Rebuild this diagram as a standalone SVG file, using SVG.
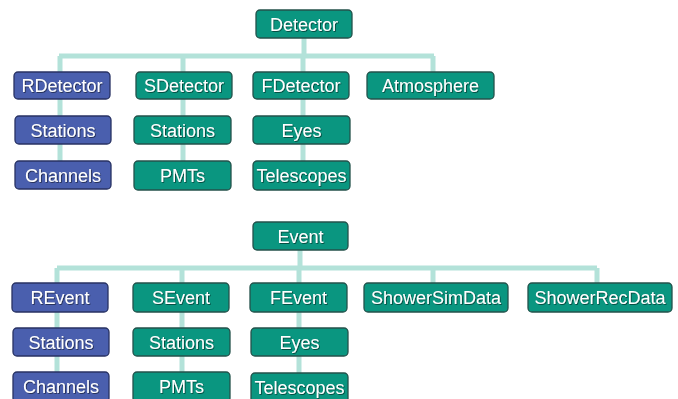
<svg xmlns="http://www.w3.org/2000/svg" width="678" height="399" viewBox="0 0 678 399">
<defs>
<filter id="ts" x="-10%" y="-20%" width="120%" height="150%">
<feDropShadow dx="0.8" dy="0.8" stdDeviation="0.6" flood-color="#000" flood-opacity="0.6"/>
</filter>
</defs>
<style>
.g rect{fill:#0a9680;stroke:#24524b;stroke-width:1.3}
.b rect{fill:#4a5fae;stroke:#283263;stroke-width:1.3}
text{font-family:"Liberation Sans",Arial,sans-serif;font-size:18px;fill:#fff;text-anchor:middle;filter:url(#ts)}
.c{stroke:#b3e2d9;stroke-width:5;fill:none}
</style>
<rect width="678" height="399" fill="#fff"/>
<g id="connectors">
<path class="c" d="M304 38V56M59 56H434M60 56V189M183 56V189M303 56V189M433 56V72"/>
<path class="c" d="M300 250V268M57 268H597M57 268V399M182 268V399M299 268V399M433 268V283M597 268V283"/>
</g>
<g id="n-detector" class="g"><rect x="256" y="10" width="96" height="28" rx="4"/><text x="304" y="31">Detector</text></g>
<g id="n-rdetector" class="b"><rect x="14" y="72" width="96" height="27" rx="4"/><text x="62" y="92">RDetector</text></g>
<g id="n-rstations" class="b"><rect x="15" y="116" width="96" height="28" rx="4"/><text x="63" y="137">Stations</text></g>
<g id="n-rchannels" class="b"><rect x="15" y="161" width="96" height="28" rx="4"/><text x="63" y="182">Channels</text></g>
<g id="n-sdetector" class="g"><rect x="136" y="72" width="96" height="27" rx="4"/><text x="184" y="92">SDetector</text></g>
<g id="n-sstations" class="g"><rect x="134" y="116" width="97" height="28" rx="4"/><text x="182.5" y="137">Stations</text></g>
<g id="n-spmts" class="g"><rect x="134" y="161" width="97" height="29" rx="4"/><text x="182.5" y="182">PMTs</text></g>
<g id="n-fdetector" class="g"><rect x="253" y="72" width="96" height="27" rx="4"/><text x="301" y="92">FDetector</text></g>
<g id="n-feyes" class="g"><rect x="253" y="116" width="97" height="28" rx="4"/><text x="301.5" y="137">Eyes</text></g>
<g id="n-ftelescopes" class="g"><rect x="253" y="161" width="97" height="29" rx="4"/><text x="301.5" y="182">Telescopes</text></g>
<g id="n-atmosphere" class="g"><rect x="367" y="72" width="127" height="27" rx="4"/><text x="430.5" y="92">Atmosphere</text></g>
<g id="n-event" class="g"><rect x="253" y="222" width="95" height="28" rx="4"/><text x="300.5" y="243">Event</text></g>
<g id="n-revent" class="b"><rect x="12" y="283" width="96" height="29" rx="4"/><text x="60" y="304">REvent</text></g>
<g id="n-rstations2" class="b"><rect x="13" y="328" width="96" height="28" rx="4"/><text x="61" y="349">Stations</text></g>
<g id="n-rchannels2" class="b"><rect x="13" y="372" width="96" height="30" rx="4"/><text x="61" y="393">Channels</text></g>
<g id="n-sevent" class="g"><rect x="133" y="283" width="96" height="29" rx="4"/><text x="181" y="304">SEvent</text></g>
<g id="n-sstations2" class="g"><rect x="133" y="328" width="97" height="28" rx="4"/><text x="181.5" y="349">Stations</text></g>
<g id="n-spmts2" class="g"><rect x="133" y="372" width="97" height="30" rx="4"/><text x="181.5" y="393">PMTs</text></g>
<g id="n-fevent" class="g"><rect x="250" y="283" width="97" height="29" rx="4"/><text x="298.5" y="304">FEvent</text></g>
<g id="n-feyes2" class="g"><rect x="251" y="328" width="97" height="28" rx="4"/><text x="299.5" y="349">Eyes</text></g>
<g id="n-ftelescopes2" class="g"><rect x="251" y="373" width="97" height="30" rx="4"/><text x="299.5" y="394">Telescopes</text></g>
<g id="n-showersim" class="g"><rect x="364" y="283" width="144" height="29" rx="4"/><text x="436" y="304">ShowerSimData</text></g>
<g id="n-showerrec" class="g"><rect x="528" y="283" width="144" height="29" rx="4"/><text x="600" y="304">ShowerRecData</text></g>
</svg>
